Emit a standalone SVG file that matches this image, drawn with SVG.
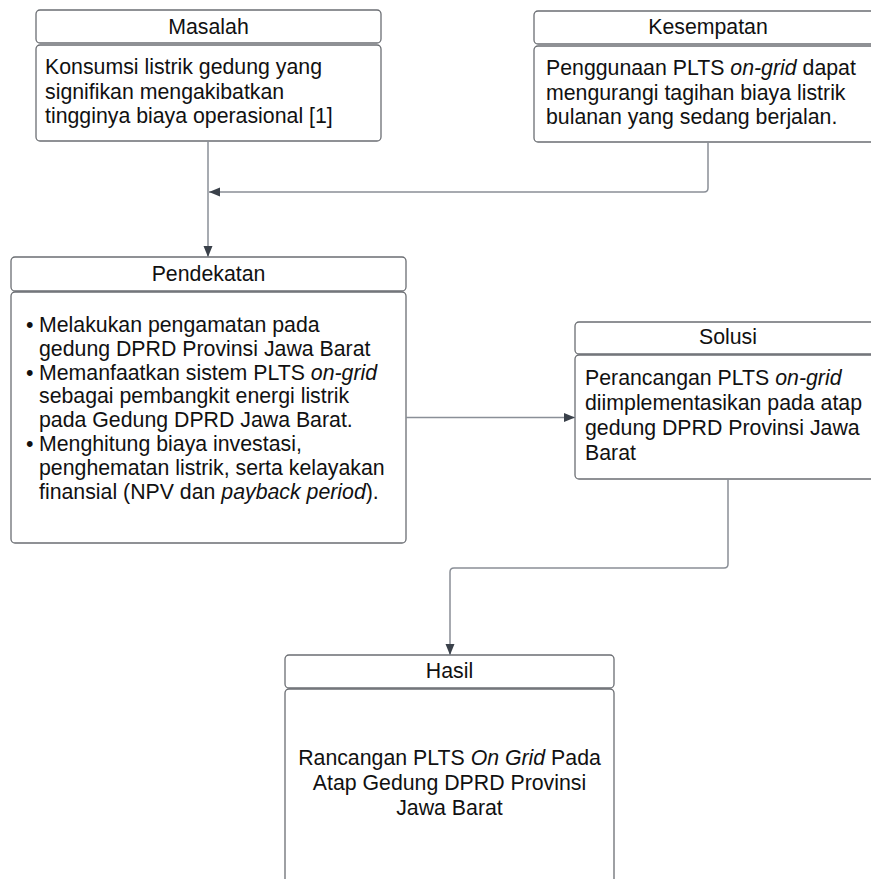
<svg xmlns="http://www.w3.org/2000/svg" width="871" height="879" viewBox="0 0 871 879">
<defs>
<marker id="arr" markerUnits="userSpaceOnUse" markerWidth="12" markerHeight="12" viewBox="0 0 12 12" refX="11" refY="6" orient="auto">
<path d="M0,1.5 L11,6 L0,10.5 Z" fill="#3a414a"/>
</marker>
<style>
.box{fill:#ffffff;stroke:#6b6e73;stroke-width:1.3}
.t{font-family:"Liberation Sans",Arial,sans-serif;font-size:21.3px;fill:#111111}
.c{text-anchor:middle}
.con{fill:none;stroke:#8a8f97;stroke-width:1.5}
</style>
</defs>
<rect width="871" height="879" fill="#ffffff"/>

<g id="masalah">
<rect class="box" x="36" y="10" width="345" height="33" rx="4"/>
<rect class="box" x="36" y="45" width="345" height="96" rx="4"/>
<text class="t c" x="208.5" y="34">Masalah</text>
<text class="t" x="45" y="74">Konsumsi listrik gedung yang</text>
<text class="t" x="45" y="98.7">signifikan mengakibatkan</text>
<text class="t" x="45" y="123.4">tingginya biaya operasional [1]</text>
</g>

<g id="kesempatan">
<rect class="box" x="534" y="11" width="348" height="33" rx="4"/>
<rect class="box" x="534" y="46" width="348" height="96" rx="4"/>
<text class="t c" x="708" y="34">Kesempatan</text>
<text class="t" x="546" y="75">Penggunaan PLTS <tspan font-style="italic">on-grid</tspan> dapat</text>
<text class="t" x="546" y="99.7">mengurangi tagihan biaya listrik</text>
<text class="t" x="546" y="124.4">bulanan yang sedang berjalan.</text>
</g>

<g id="pendekatan">
<rect class="box" x="11" y="257" width="395" height="34" rx="4"/>
<rect class="box" x="11" y="292" width="395" height="251" rx="4"/>
<text class="t c" x="208.5" y="281">Pendekatan</text>
<text class="t" x="26" y="332">•</text>
<text class="t" x="39" y="332">Melakukan pengamatan pada</text>
<text class="t" x="39" y="355.8">gedung DPRD Provinsi Jawa Barat</text>
<text class="t" x="26" y="379.6">•</text>
<text class="t" x="39" y="379.6">Memanfaatkan sistem PLTS <tspan font-style="italic">on-grid</tspan></text>
<text class="t" x="39" y="403.4">sebagai pembangkit energi listrik</text>
<text class="t" x="39" y="427.2">pada Gedung DPRD Jawa Barat.</text>
<text class="t" x="26" y="451">•</text>
<text class="t" x="39" y="451">Menghitung biaya investasi,</text>
<text class="t" x="39" y="474.8">penghematan listrik, serta kelayakan</text>
<text class="t" x="39" y="498.6">finansial (NPV dan <tspan font-style="italic">payback period</tspan>).</text>
</g>

<g id="solusi">
<rect class="box" x="575" y="322" width="307" height="32" rx="4"/>
<rect class="box" x="575" y="355" width="307" height="124" rx="4"/>
<text class="t c" x="728" y="344">Solusi</text>
<text class="t" x="585" y="385">Perancangan PLTS <tspan font-style="italic">on-grid</tspan></text>
<text class="t" x="585" y="410">diimplementasikan pada atap</text>
<text class="t" x="585" y="435">gedung DPRD Provinsi Jawa</text>
<text class="t" x="585" y="460">Barat</text>
</g>

<g id="hasil">
<rect class="box" x="285" y="655" width="329" height="33" rx="4"/>
<rect class="box" x="285" y="689" width="329" height="220" rx="4"/>
<text class="t c" x="449.5" y="678">Hasil</text>
<text class="t c" x="449.5" y="765">Rancangan PLTS <tspan font-style="italic">On Grid</tspan> Pada</text>
<text class="t c" x="449.5" y="790">Atap Gedung DPRD Provinsi</text>
<text class="t c" x="449.5" y="815">Jawa Barat</text>
</g>

<g id="connectors">
<path class="con" d="M208,141 V257" marker-end="url(#arr)"/>
<path class="con" d="M708,142 V188 Q708,192 704,192 H209" marker-end="url(#arr)"/>
<path class="con" d="M406,417.5 H575" marker-end="url(#arr)"/>
<path class="con" d="M728,479 V564 Q728,568 724,568 H454 Q450,568 450,572 V655" marker-end="url(#arr)"/>
</g>
</svg>
